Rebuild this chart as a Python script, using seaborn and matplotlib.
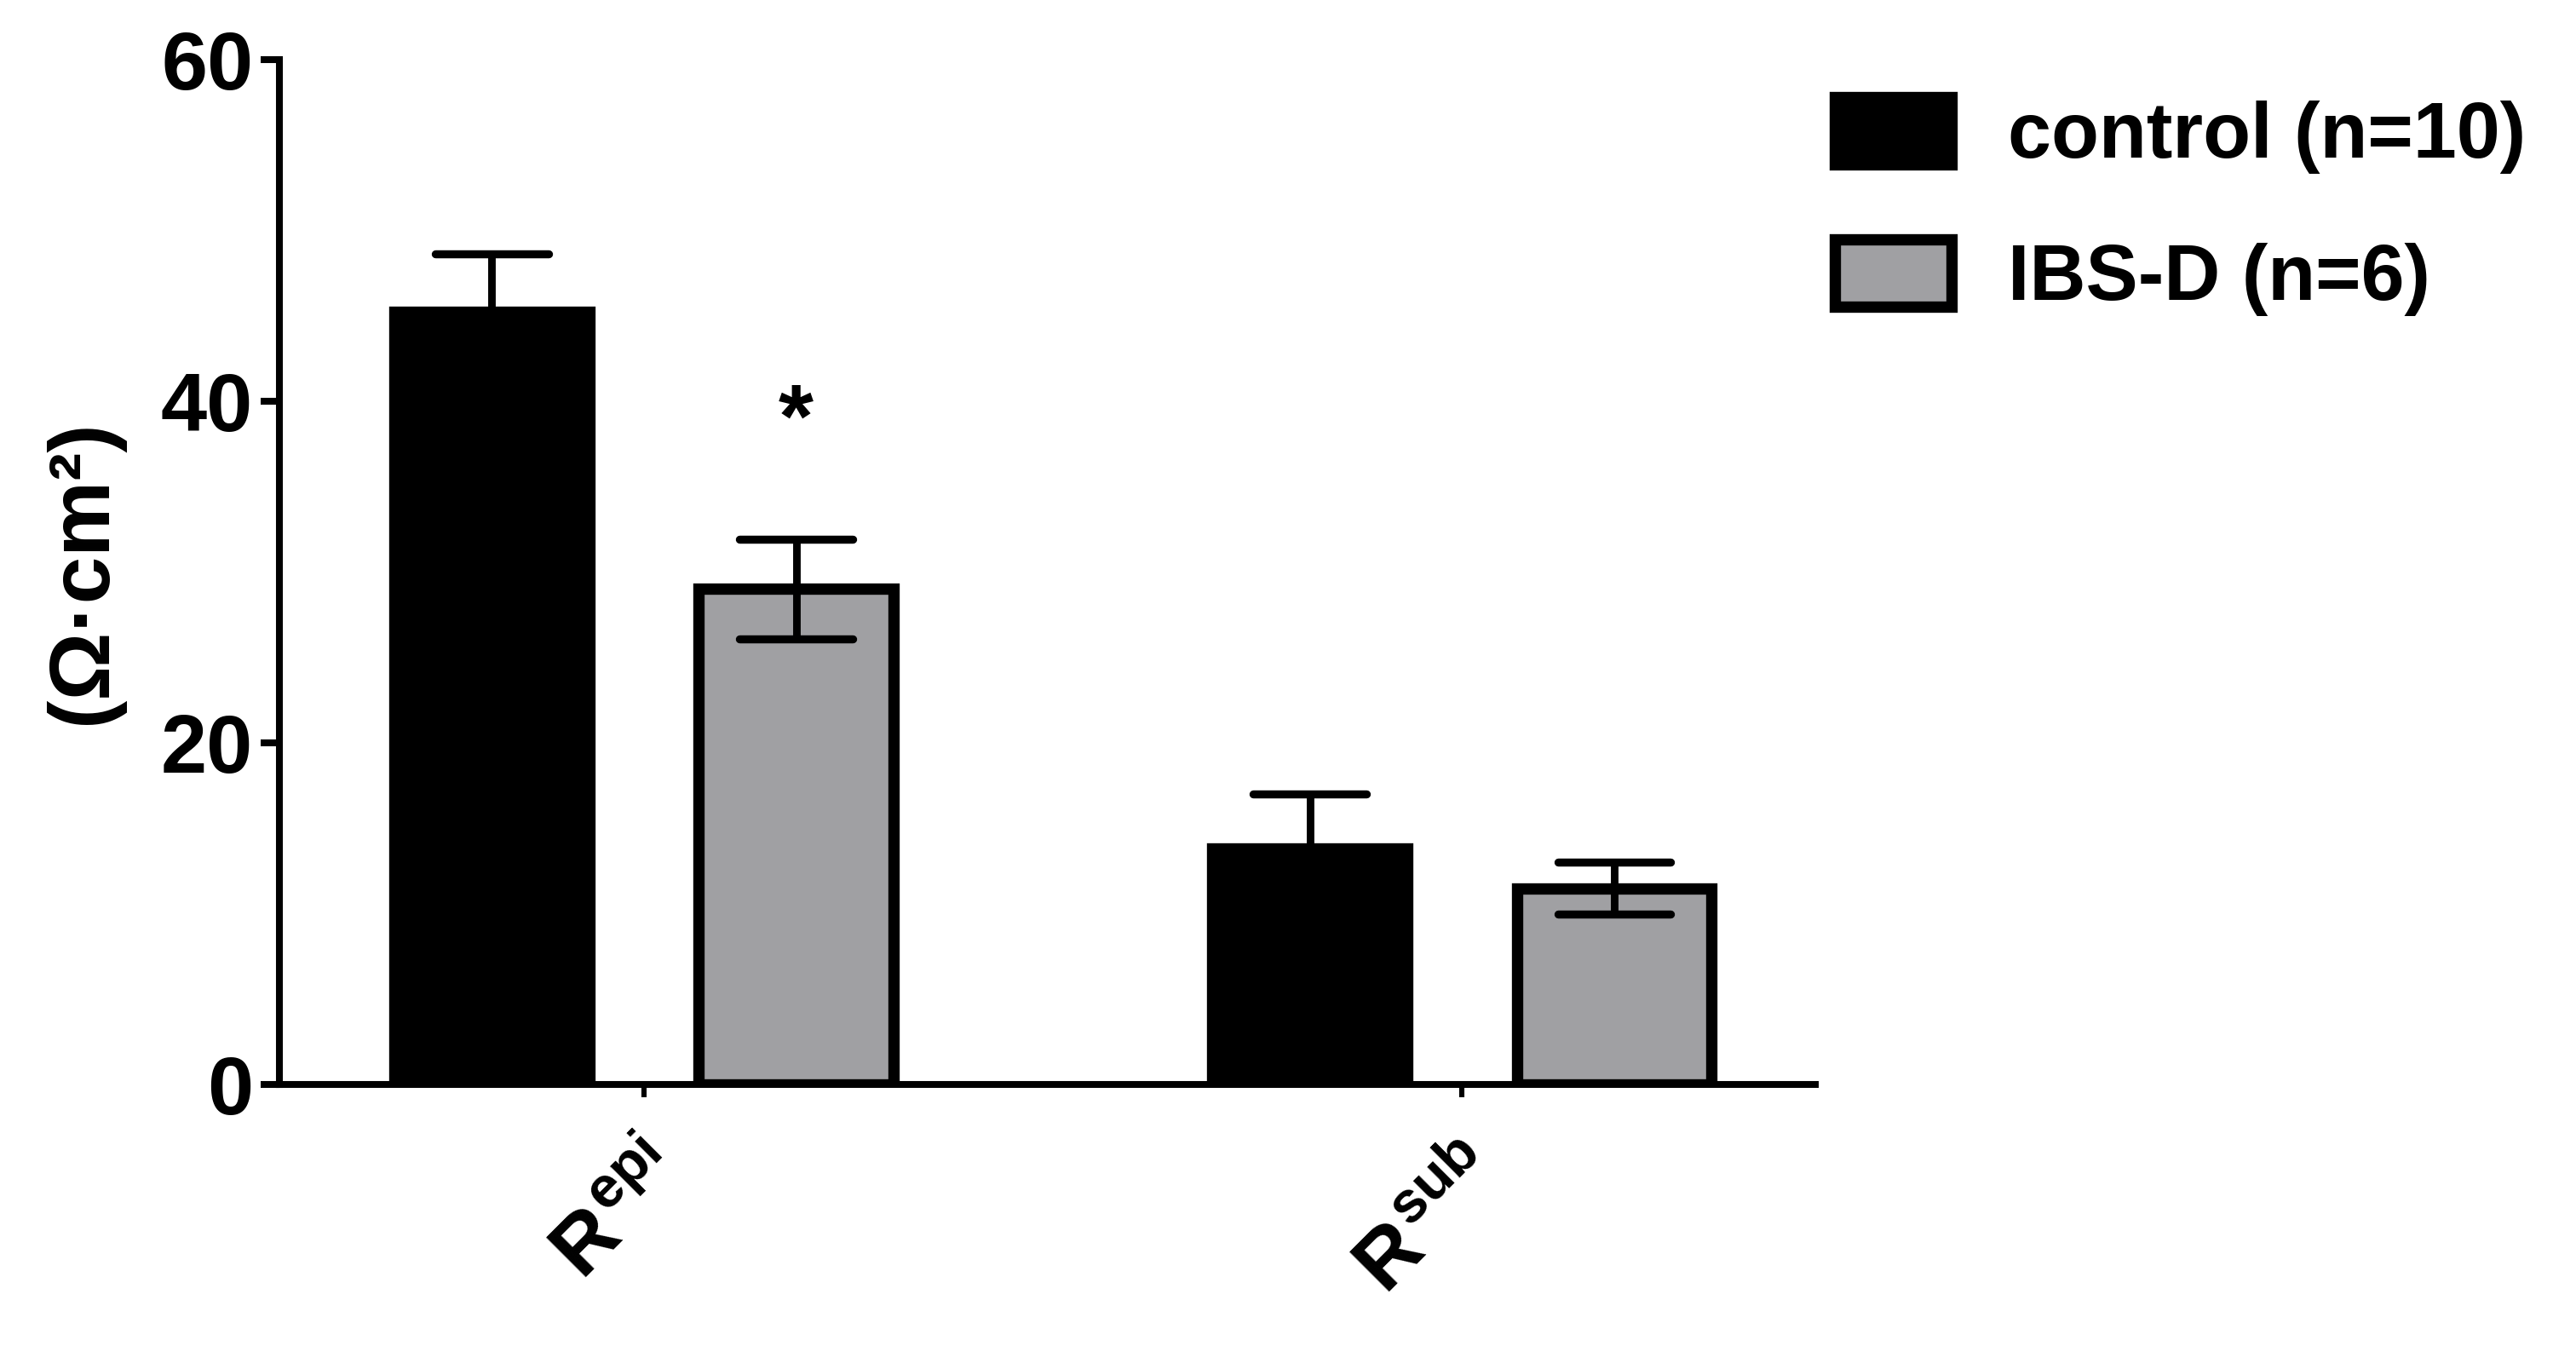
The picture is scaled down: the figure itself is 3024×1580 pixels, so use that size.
import numpy as np
import pandas as pd
import seaborn as sns
import matplotlib.pyplot as plt

# values
params = ['Repi', 'Rsub']
tick_labels = [r'$R^{epi}$', r'$R^{sub}$']
groups = ['control (n=10)', 'IBS-D (n=6)']
control_mean = [45.2, 13.8]
control_sem = [3.4, 3.2]
ibsd_mean = [29.0, 11.5]
ibsd_sem = [2.9, 1.5]
signif = ['*', '']

df = pd.DataFrame({
    'param': params * 2,
    'group': [groups[0]] * 2 + [groups[1]] * 2,
    'value': control_mean + ibsd_mean,
})
sems = [control_sem, ibsd_sem]

sns.set_style('ticks')
plt.rcParams['font.family'] = ['Liberation Sans Narrow', 'Liberation Sans', 'DejaVu Sans']
plt.rcParams['font.weight'] = 'bold'
for key in ['text.color', 'axes.labelcolor', 'xtick.color', 'ytick.color', 'axes.edgecolor']:
    plt.rcParams[key] = 'black'
plt.rcParams['mathtext.fontset'] = 'custom'
plt.rcParams['mathtext.rm'] = 'Liberation Sans:bold'
plt.rcParams['mathtext.it'] = 'Liberation Sans:bold'
plt.rcParams['mathtext.bf'] = 'Liberation Sans:bold'

fig = plt.figure(figsize=(15.12, 7.9), dpi=200)
ax = fig.add_axes([0.1084, 0.1941, 0.5963, 0.7619])

sns.barplot(data=df, x='param', y='value', hue='group', order=params,
            hue_order=groups, palette=['black', '#a09fa4'], width=0.744,
            gap=0.36, errorbar=None, edgecolor='black', linewidth=4.8,
            ax=ax, zorder=2)

for cont, sem in zip(ax.containers, sems):
    for bar, s in zip(cont, sem):
        x = bar.get_x() + bar.get_width() / 2
        m = bar.get_height()
        cw = bar.get_width() * 0.58
        ax.vlines(x, m - s, m + s, color='black', lw=3.2, zorder=3)
        ax.hlines([m - s, m + s], x - cw / 2, x + cw / 2, color='black',
                  lw=3.4, capstyle='round', zorder=3)

# significance mark over IBS-D bars
for bar, s, mark in zip(ax.containers[1], ibsd_sem, signif):
    if mark:
        x = bar.get_x() + bar.get_width() / 2
        ax.text(x, bar.get_height() + s + 4.3, mark, ha='center', va='bottom',
                fontsize=38, fontweight='bold')

ax.set_ylim(0, 60)
ax.set_xlim(-0.446, 1.432)
ax.set_yticks([0, 20, 40, 60])
ax.set_xticks(range(len(params)))
ax.set_xticklabels(tick_labels, rotation=45, ha='right', va='top',
                   rotation_mode='anchor')
ax.set_xlabel('')
ax.set_ylabel('(Ω·cm²)', fontsize=36, fontweight='bold', labelpad=16)

for side in ['top', 'right']:
    ax.spines[side].set_visible(False)
for side in ['left', 'bottom']:
    ax.spines[side].set_linewidth(2.9)
ax.tick_params(axis='y', length=8, width=2.9, labelsize=35, pad=3)
ax.tick_params(axis='x', length=5.5, width=2.2, labelsize=35, pad=16)
for lab in ax.get_yticklabels() + ax.get_xticklabels():
    lab.set_fontweight('bold')

ax.legend(loc='upper left', bbox_to_anchor=(0.697, 0.957),
          bbox_transform=fig.transFigure, frameon=False,
          handlelength=1.5, handleheight=0.95, handletextpad=0.72,
          labelspacing=0.84, borderpad=0, prop={'weight': 'bold', 'size': 33})

plt.savefig('out.png')
